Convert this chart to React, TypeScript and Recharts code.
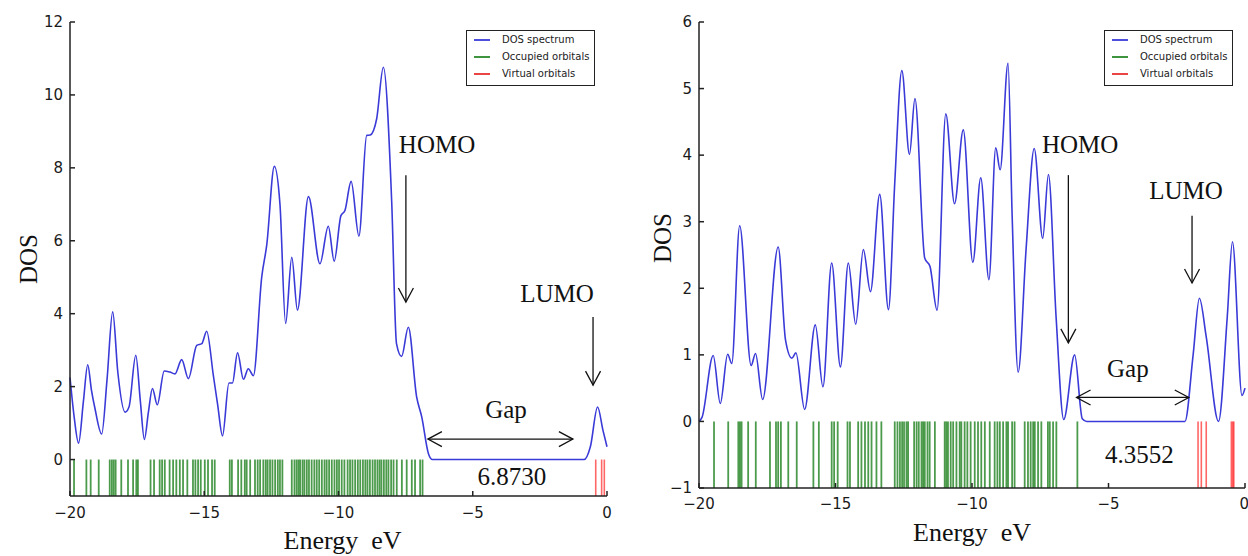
import React from "react";
import {
  ComposedChart,
  Line,
  XAxis,
  YAxis,
  ReferenceLine,
  ReferenceDot,
  Legend,
} from "recharts";

// left panel: DOS spectrum
const leftEnergy = [
  -20.0, -19.85, -19.68, -19.5, -19.34, -19.2, -19.07, -18.82, -18.62, -18.41,
  -18.22, -17.95, -17.8, -17.55, -17.38, -17.23, -17.08, -16.93, -16.75, -16.49,
  -16.28, -16.09, -15.84, -15.59, -15.28, -15.09, -14.91, -14.66, -14.5, -14.32,
  -14.08, -13.95, -13.76, -13.54, -13.36, -13.17, -12.86, -12.67, -12.39, -12.18,
  -11.97, -11.74, -11.53, -11.12, -10.69, -10.38, -10.16, -9.91, -9.76, -9.53,
  -9.24, -8.95, -8.82, -8.58, -8.33, -8.02, -7.84, -7.65, -7.4, -7.09,
  -6.9, -6.65, -6.5, -3.0, -0.85, -0.62, -0.35, -0.15, 0.0,
];
const leftDos = [
  2.25, 1.2, 0.45, 1.6, 2.6, 1.9, 1.4, 0.7, 2.2, 4.05,
  2.4, 1.3, 1.45, 2.86, 1.6, 0.55, 1.3, 1.95, 1.5, 2.43,
  2.4, 2.35, 2.74, 2.22, 3.13, 3.18, 3.52, 2.3, 1.5, 0.65,
  2.1, 2.1, 2.93, 2.2, 2.49, 2.3, 5.0, 5.9, 8.04, 7.0,
  3.73, 5.55, 4.1, 7.21, 5.37, 6.4, 5.44, 6.69, 6.83, 7.63,
  6.13, 8.89, 8.9, 9.34, 10.76, 7.1, 3.18, 2.83, 3.63, 1.72,
  1.17, 0.16, 0.0, 0.0, 0.0, 0.35, 1.44, 0.8, 0.35,
];
const leftOccupied = [
  -19.85, -19.39, -19.23, -18.93, -18.52, -18.44, -18.37, -18.3, -18.09, -17.84,
  -17.65, -17.53, -17.47, -17.0, -16.87, -16.66, -16.57, -16.47, -16.29, -16.16,
  -16.04, -15.91, -15.79, -15.63, -15.42, -15.33, -15.23, -15.13, -14.98, -14.86,
  -14.71, -14.61, -14.05, -13.97, -13.74, -13.62, -13.49, -13.42, -13.29, -13.11,
  -13.01, -12.92, -12.8, -12.71, -12.64, -12.55, -12.46, -12.36, -12.26, -12.18,
  -12.09, -11.74, -11.64, -11.56, -11.49, -11.43, -11.34, -11.27, -11.18, -11.1,
  -11.0, -10.9, -10.81, -10.72, -10.62, -10.52, -10.44, -10.35, -10.25, -10.15,
  -10.06, -9.98, -9.88, -9.78, -9.66, -9.57, -9.48, -9.38, -9.28, -9.19,
  -9.09, -9.0, -8.92, -8.83, -8.73, -8.64, -8.55, -8.47, -8.4, -8.31,
  -8.22, -8.14, -8.04, -7.95, -7.83, -7.64, -7.46, -7.27, -7.15, -6.96, -6.87,
];
const leftVirtual = [-0.42, -0.2, -0.1];

// right panel
const rightEnergy = [
  -20.0, -19.89, -19.48, -19.22, -18.95, -18.8, -18.51, -18.09, -17.93, -17.67,
  -17.1, -16.83, -16.6, -16.45, -16.13, -15.74, -15.46, -15.14, -14.82, -14.53,
  -14.26, -13.98, -13.72, -13.38, -13.06, -12.83, -12.57, -12.29, -12.09, -11.73,
  -11.54, -11.28, -10.96, -10.64, -10.32, -9.97, -9.68, -9.38, -9.13, -8.97,
  -8.68, -8.53, -8.31, -8.02, -7.72, -7.41, -7.2, -6.92, -6.64, -6.24,
  -5.96, -5.8, -2.2, -1.9, -1.67, -1.42, -0.97, -0.65, -0.46, -0.11, 0.0,
];
const rightDos = [
  0.0, 0.06, 0.99, 0.27, 1.01, 0.87, 2.94, 0.84, 1.02, 0.33,
  2.62, 1.22, 0.95, 1.03, 0.18, 1.45, 0.52, 2.38, 0.82, 2.38,
  1.46, 2.58, 1.95, 3.41, 1.68, 3.58, 5.27, 4.01, 4.85, 2.45,
  2.33, 1.67, 4.62, 3.27, 4.38, 2.39, 3.66, 2.13, 4.11, 3.78,
  5.38, 3.1, 0.74, 2.58, 4.1, 2.75, 3.71, 1.57, 0.03, 1.0,
  0.04, 0.0, 0.0, 1.0, 1.85, 1.27, 0.0, 1.57, 2.7, 0.39, 0.5,
];
const rightOccupied = [
  -19.45, -18.93, -18.56, -18.5, -18.44, -18.2, -17.92, -17.4, -17.18, -17.1,
  -17.0, -16.73, -16.42, -15.81, -15.61, -15.14, -15.05, -14.92, -14.56, -14.47,
  -14.17, -14.05, -13.92, -13.8, -13.68, -13.5, -13.32, -12.83, -12.73, -12.64,
  -12.56, -12.49, -12.4, -12.34, -12.12, -12.03, -11.95, -11.85, -11.79, -11.73,
  -11.63, -11.55, -11.36, -11.0, -10.94, -10.88, -10.78, -10.69, -10.57, -10.45,
  -10.39, -10.27, -10.17, -10.05, -9.9, -9.78, -9.66, -9.53, -9.35, -9.17,
  -9.07, -8.98, -8.86, -8.74, -8.68, -8.53, -8.44, -8.07, -7.95, -7.85,
  -7.76, -7.7, -7.58, -7.46, -7.22, -7.15, -7.03, -6.91, -6.14,
];
const rightVirtual = [-1.72, -1.6, -1.42, -0.5, -0.45, -0.41];

const xTicks = [-20, -15, -10, -5, 0];
const leftYTicks = [0, 2, 4, 6, 8, 10, 12];
const rightYTicks = [-1, 0, 1, 2, 3, 4, 5, 6];

const legendItems = [
  { name: "DOS spectrum", color: "#3a3ad8" },
  { name: "Occupied orbitals", color: "#2a8a2a" },
  { name: "Virtual orbitals", color: "#e83030" },
];

type Note = { text: string; e: number; v: number };
type Arrow = { from: [number, number]; to: [number, number]; both?: boolean };

const leftNotes: Note[] = [
  { text: "HOMO", e: -6.33, v: 8.41 },
  { text: "LUMO", e: -1.86, v: 4.32 },
  { text: "Gap", e: -3.76, v: 1.14 },
  { text: "6.8730", e: -3.54, v: -0.7 },
];
const leftArrows: Arrow[] = [
  { from: [-7.49, 7.8], to: [-7.49, 4.32] },
  { from: [-0.52, 3.91], to: [-0.52, 2.04] },
  { from: [-6.67, 0.56], to: [-1.27, 0.56], both: true },
];
const rightNotes: Note[] = [
  { text: "HOMO", e: -6.04, v: 4.03 },
  { text: "LUMO", e: -2.16, v: 3.34 },
  { text: "Gap", e: -4.29, v: 0.67 },
  { text: "4.3552", e: -3.87, v: -0.62 },
];
const rightArrows: Arrow[] = [
  { from: [-6.47, 3.7], to: [-6.47, 1.18] },
  { from: [-1.94, 3.09], to: [-1.94, 2.08] },
  { from: [-6.17, 0.36], to: [-2.06, 0.36], both: true },
];

const SERIF = '"Liberation Serif", "Times New Roman", serif';
const SANS = '"DejaVu Sans", sans-serif';
const INK = "#111";
const fmt = (v: number) => String(v).replace("-", "\u2212");

const head = (tx: number, ty: number, fx: number, fy: number) => {
  const a = Math.atan2(ty - fy, tx - fx);
  const bx = tx - 14 * Math.cos(a);
  const by = ty - 14 * Math.sin(a);
  const px = -Math.sin(a) * 7.5;
  const py = Math.cos(a) * 7.5;
  return (
    <polyline
      points={`${bx + px},${by + py} ${tx},${ty} ${bx - px},${by - py}`}
      fill="none"
      stroke={INK}
      strokeWidth={1.3}
    />
  );
};

const arrowShape = (both?: boolean) => (p: any) => (
  <g>
    <line x1={p.x1} y1={p.y1} x2={p.x2} y2={p.y2} stroke={INK} strokeWidth={1.3} />
    {head(p.x2, p.y2, p.x1, p.y1)}
    {both && head(p.x1, p.y1, p.x2, p.y2)}
  </g>
);

const LegendBox = () => (
  <div
    style={{
      border: "1.5px solid #222",
      background: "#fff",
      padding: "0 5px 3px 7px",
      fontFamily: SANS,
      fontSize: 10,
      lineHeight: "17px",
      color: "#222",
      whiteSpace: "nowrap",
    }}
  >
    {legendItems.map((it) => (
      <div key={it.name} style={{ display: "flex", alignItems: "center" }}>
        <svg width={16} height={4} style={{ marginRight: 12, display: "block" }}>
          <line x1={0} y1={2} x2={16} y2={2} stroke={it.color} strokeWidth={1.8} />
        </svg>
        {it.name}
      </div>
    ))}
  </div>
);

type PanelProps = {
  energy: number[];
  dos: number[];
  occupied: number[];
  virtual: number[];
  yTicks: number[];
  yDomain: [number, number];
  notes: Note[];
  arrows: Arrow[];
  width: number;
  marginRight: number;
  yAxisWidth: number;
  xAxisHeight: number;
  xTickMargin: number;
  legendLeft: number;
  dosLabel: [number, number];
  energyShift: number;
};

const DosPanel = (props: PanelProps) => {
  const data = props.energy.map((e, i) => ({ e, dos: props.dos[i] }));
  const bottom = props.yDomain[0];
  return (
    <ComposedChart
      width={props.width}
      height={556}
      data={data}
      margin={{ top: 22, right: props.marginRight, bottom: 0, left: 0 }}
    >
      <XAxis
        xAxisId="b"
        dataKey="e"
        type="number"
        domain={[-20, 0]}
        ticks={xTicks}
        tickFormatter={fmt}
        height={props.xAxisHeight}
        tickSize={-5}
        tickMargin={props.xTickMargin}
        stroke="#222"
        strokeWidth={1.5}
        tick={{ fill: "#1a1a1a", fontSize: 15, fontFamily: SANS }}
        label={{
          content: (p: any) => (
            <text
              x={p.viewBox.x + p.viewBox.width / 2 + props.energyShift}
              y={p.viewBox.y + 53}
              textAnchor="middle"
              fontFamily={SERIF}
              fontSize={26}
              fill={INK}
            >
              {"Energy\u00a0 eV"}
            </text>
          ),
        }}
      />
      <XAxis
        xAxisId="t"
        orientation="top"
        type="number"
        domain={[-20, 0]}
        ticks={xTicks}
        height={0}
        tickSize={-5}
        tick={false}
        stroke="#222"
        strokeWidth={1.5}
      />
      <YAxis
        yAxisId="l"
        type="number"
        domain={props.yDomain}
        ticks={props.yTicks}
        tickFormatter={fmt}
        width={props.yAxisWidth}
        tickSize={-5}
        tickMargin={12}
        stroke="#222"
        strokeWidth={1.5}
        tick={{ fill: "#1a1a1a", fontSize: 15, fontFamily: SANS }}
        label={{
          content: () => (
            <text
              x={props.dosLabel[0]}
              y={props.dosLabel[1]}
              transform={`rotate(-90 ${props.dosLabel[0]} ${props.dosLabel[1]})`}
              textAnchor="middle"
              dominantBaseline="central"
              fontFamily={SERIF}
              fontSize={25}
              fill={INK}
            >
              DOS
            </text>
          ),
        }}
      />
      <YAxis
        yAxisId="r"
        orientation="right"
        type="number"
        domain={props.yDomain}
        ticks={props.yTicks}
        width={0}
        tickSize={-5}
        tick={false}
        stroke="#222"
        strokeWidth={1.5}
      />
      {props.occupied.map((e, i) => (
        <ReferenceLine
          key={`o${i}`}
          xAxisId="b"
          yAxisId="l"
          segment={[
            { x: e, y: bottom },
            { x: e, y: 0 },
          ]}
          stroke="#007000"
          strokeOpacity={0.7}
          strokeWidth={1.8}
        />
      ))}
      {props.virtual.map((e, i) => (
        <ReferenceLine
          key={`v${i}`}
          xAxisId="b"
          yAxisId="l"
          segment={[
            { x: e, y: bottom },
            { x: e, y: 0 },
          ]}
          stroke="#ff0000"
          strokeOpacity={0.6}
          strokeWidth={1.6}
        />
      ))}
      <Line
        xAxisId="b"
        yAxisId="l"
        dataKey="dos"
        type="monotone"
        stroke="#3a3ad8"
        strokeWidth={1.6}
        dot={false}
        activeDot={false}
        isAnimationActive={false}
      />
      {props.arrows.map((a, i) => (
        <ReferenceLine
          key={`a${i}`}
          xAxisId="b"
          yAxisId="l"
          segment={[
            { x: a.from[0], y: a.from[1] },
            { x: a.to[0], y: a.to[1] },
          ]}
          shape={arrowShape(a.both)}
        />
      ))}
      {props.notes.map((n) => (
        <ReferenceDot
          key={n.text}
          xAxisId="b"
          yAxisId="l"
          x={n.e}
          y={n.v}
          r={0}
          fill="none"
          stroke="none"
          label={{
            content: (p: any) => (
              <text
                x={p.viewBox.x + (p.viewBox.width || 0) / 2}
                y={p.viewBox.y + (p.viewBox.height || 0) / 2}
                textAnchor="middle"
                fontFamily={SERIF}
                fontSize={25}
                fill={INK}
              >
                {n.text}
              </text>
            ),
          }}
        />
      ))}
      <Legend
        layout="vertical"
        align="center"
        verticalAlign="middle"
        content={() => <LegendBox />}
        wrapperStyle={{ left: props.legendLeft, top: 30, width: "auto", height: "auto" }}
      />
    </ComposedChart>
  );
};

export default function App() {
  return (
    <div
      style={{
        position: "absolute",
        left: 0,
        top: 0,
        width: 1248,
        height: 556,
        background: "#fff",
        overflow: "hidden",
      }}
    >
      <div style={{ position: "absolute", left: 0, top: 0 }}>
        <DosPanel
          energy={leftEnergy}
          dos={leftDos}
          occupied={leftOccupied}
          virtual={leftVirtual}
          yTicks={leftYTicks}
          yDomain={[-1, 12]}
          notes={leftNotes}
          arrows={leftArrows}
          width={620}
          marginRight={13}
          yAxisWidth={70}
          xAxisHeight={60}
          xTickMargin={16}
          legendLeft={466}
          dosLabel={[28, 259]}
          energyShift={4}
        />
      </div>
      <div style={{ position: "absolute", left: 620, top: 0 }}>
        <DosPanel
          energy={rightEnergy}
          dos={rightDos}
          occupied={rightOccupied}
          virtual={rightVirtual}
          yTicks={rightYTicks}
          yDomain={[-1, 6]}
          notes={rightNotes}
          arrows={rightArrows}
          width={628}
          marginRight={3}
          yAxisWidth={79}
          xAxisHeight={68}
          xTickMargin={15}
          legendLeft={484}
          dosLabel={[42, 238]}
          energyShift={0}
        />
      </div>
    </div>
  );
}
